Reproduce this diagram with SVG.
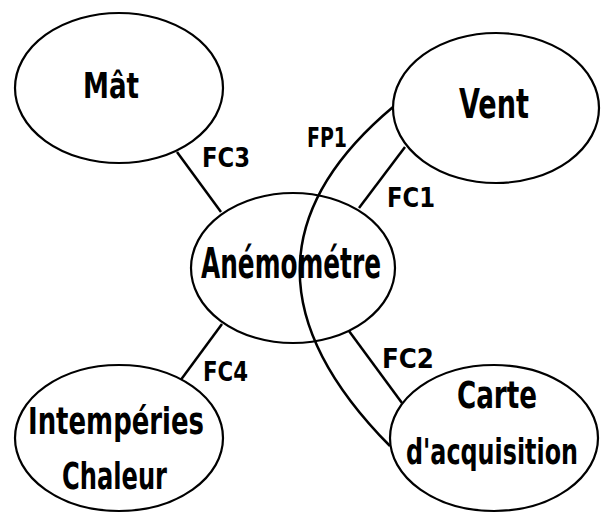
<svg xmlns="http://www.w3.org/2000/svg" width="604" height="513" viewBox="0 0 604 513">
<style>
.node ellipse{fill:#fff;stroke:#000;stroke-width:2.2}
.lbl{font-family:"DejaVu Sans Condensed","DejaVu Sans",sans-serif;font-weight:bold;fill:#000;text-anchor:middle}
.fc{font-family:"DejaVu Sans Condensed","DejaVu Sans",sans-serif;font-weight:bold;fill:#000;font-size:27px}
.edge{stroke:#000;stroke-width:2.5;fill:none}
</style>
<rect width="604" height="513" fill="#fff"/>
<g id="connectors">
<line class="edge" x1="177" y1="152" x2="221" y2="212"/>
<line class="edge" x1="405" y1="147" x2="359" y2="208"/>
<line class="edge" x1="222" y1="324" x2="180" y2="381"/>
<line class="edge" x1="349" y1="331" x2="402" y2="403"/>
<path class="edge" stroke-width="3" d="M393,107 Q208,262 390,446"/>
<text class="fc" x="202" y="167" textLength="48" lengthAdjust="spacingAndGlyphs">FC3</text>
<text class="fc" x="307" y="147" textLength="40" lengthAdjust="spacingAndGlyphs">FP1</text>
<text class="fc" x="387" y="207" textLength="48" lengthAdjust="spacingAndGlyphs">FC1</text>
<text class="fc" x="203" y="381" textLength="45" lengthAdjust="spacingAndGlyphs">FC4</text>
<text class="fc" x="382" y="368" textLength="52" lengthAdjust="spacingAndGlyphs">FC2</text>
</g>
<g id="mat" class="node">
<ellipse cx="119" cy="88" rx="104" ry="75"/>
<text class="lbl" x="111" y="98" font-size="36" textLength="56" lengthAdjust="spacingAndGlyphs">Mât</text>
</g>
<g id="vent" class="node">
<ellipse cx="496" cy="108" rx="103" ry="75"/>
<text class="lbl" x="494" y="118" font-size="40" textLength="70" lengthAdjust="spacingAndGlyphs">Vent</text>
</g>
<g id="anemometre" class="node">
<ellipse cx="293" cy="268" rx="102" ry="75" style="fill:none"/>
<text class="lbl" x="291" y="278" font-size="42" textLength="180" lengthAdjust="spacingAndGlyphs">Anémométre</text>
</g>
<g id="intemperies" class="node">
<ellipse cx="119" cy="438" rx="104" ry="73"/>
<text class="lbl" x="116" y="434" font-size="38" textLength="176" lengthAdjust="spacingAndGlyphs">Intempéries</text>
<text class="lbl" x="114.5" y="489" font-size="38" textLength="105" lengthAdjust="spacingAndGlyphs">Chaleur</text>
</g>
<g id="carte" class="node">
<ellipse cx="494" cy="438" rx="104" ry="73"/>
<text class="lbl" x="497" y="408" font-size="37" textLength="80" lengthAdjust="spacingAndGlyphs">Carte</text>
<text class="lbl" x="492" y="464" font-size="36" textLength="172" lengthAdjust="spacingAndGlyphs">d'acquisition</text>
</g>
</svg>
